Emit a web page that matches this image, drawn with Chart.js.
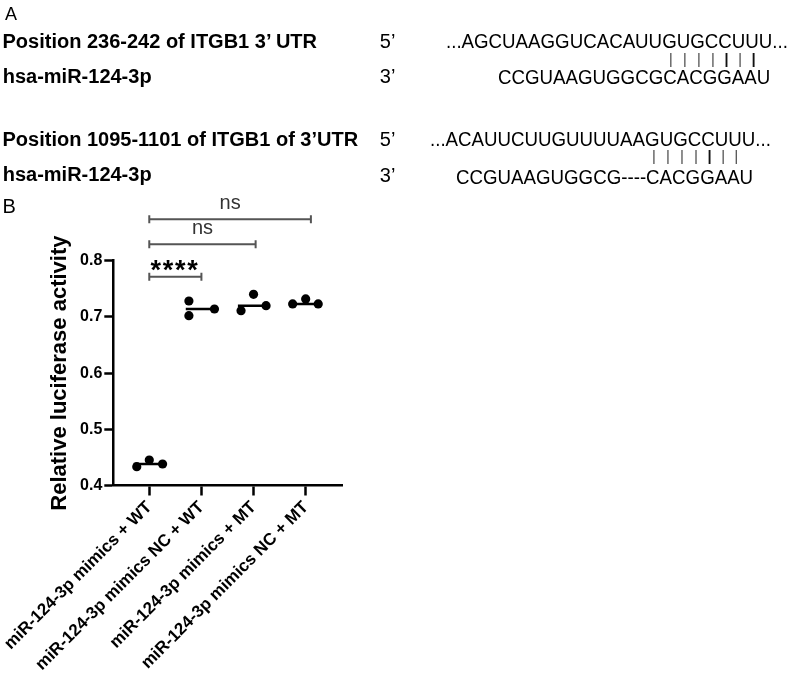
<!DOCTYPE html>
<html>
<head>
<meta charset="utf-8">
<script src="https://cdn.jsdelivr.net/npm/chart.js@4.4.1/dist/chart.umd.min.js"></script>
<style>
  body { margin: 0; background: #fff; }
  #wrap { position: relative; width: 792px; height: 679px; overflow: hidden;
          font-family: "Liberation Sans", Arial, sans-serif; color: #000; }
  canvas { position: absolute; left: 0; top: 0; }
  .t { position: absolute; white-space: nowrap; line-height: 1; font-size: 20px; }
  .b { font-weight: bold; }
  .seq { transform: scaleX(0.935); transform-origin: 0 0; }
  .p { position: relative; }
  .p::after { content: ''; position: absolute; left: calc(50% + 1px); top: 22.3px;
              width: 1.3px; height: 14px; background: #111; }
</style>
</head>
<body>
<div id="wrap">
  <canvas id="chart" width="792" height="679"></canvas>
  <div class="t" style="left:5px;top:4.8px;font-size:18px">A</div>
  <div class="t b" style="left:2.5px;top:31.4px">Position 236-242 of ITGB1 3’ UTR</div>
  <div class="t" style="left:379.8px;top:31.4px">5’</div>
  <div class="t seq" id="utr1" style="left:445.5px;top:31.4px"></div>
  <div class="t b" style="left:2.7px;top:66.1px">hsa-miR-124-3p</div>
  <div class="t" style="left:379.8px;top:66.4px">3’</div>
  <div class="t seq" style="left:498.3px;top:67.4px">CCGUAAGUGGCGCACGGAAU</div>
  <div class="t b" style="left:2.5px;top:128.8px">Position 1095-1101 of ITGB1 of 3’UTR</div>
  <div class="t" style="left:379.8px;top:128.8px">5’</div>
  <div class="t seq" id="utr2" style="left:430px;top:128.8px"></div>
  <div class="t b" style="left:2.7px;top:163.6px">hsa-miR-124-3p</div>
  <div class="t" style="left:379.8px;top:165px">3’</div>
  <div class="t seq" style="left:456.3px;top:166.6px">CCGUAAGUGGCG----CACGGAAU</div>
  <div class="t" style="left:2.5px;top:196.1px">B</div>
</div>
<script>
// panel A sequences, paired bases are letters 16-22 of the UTR strand
const utrSeq1 = '...AGCUAAGGUCACAUUGUGCCUUU...';
const utrSeq2 = '...ACAUUCUUGUUUUAAGUGCCUUU...';
const pairFrom = 18;   // index in the string (after the "...")
const pairTo = 24;

// panel B data
const groups = ['miR-124-3p mimics + WT', 'miR-124-3p mimics NC + WT',
                'miR-124-3p mimics + MT', 'miR-124-3p mimics NC + MT'];
const wtMimics = [0.4335, 0.4454, 0.4383];
const wtNC = [0.7283, 0.7021, 0.7141];
const mtMimics = [0.7110, 0.7402, 0.7200];
const mtNC = [0.7230, 0.7320, 0.7230];
const jitter = [[-0.24, 0, 0.255], [-0.24, -0.24, 0.25], [-0.24, 0, 0.24], [-0.25, 0, 0.24]];
const yTicks = [0.4, 0.5, 0.6, 0.7, 0.8];
const comparisons = [
  { from: 0, to: 1, y: 0.7715, label: '****' },
  { from: 0, to: 2.04, y: 0.8292, label: 'ns' },
  { from: 0, to: 3.1, y: 0.8737, label: 'ns' }
];

function fillSeq(id, seq) {
  const el = document.getElementById(id);
  let html = '';
  for (let i = 0; i < seq.length; i++) {
    html += (i >= pairFrom && i <= pairTo) ? '<span class="p">' + seq[i] + '</span>' : seq[i];
  }
  el.innerHTML = html;
}
fillSeq('utr1', utrSeq1);
fillSeq('utr2', utrSeq2);

function median(arr) {
  const s = arr.slice().sort((a, b) => a - b);
  return s[Math.floor(s.length / 2)];
}

const FONT = '"Liberation Sans", Arial, sans-serif';
Chart.defaults.font.family = FONT;
Chart.defaults.color = '#000';

const allValues = [wtMimics, wtNC, mtMimics, mtNC];
const datasets = [];
allValues.forEach((vals, i) => {
  const m = median(vals);
  datasets.push({
    type: 'line',
    data: [{ x: i - 0.3, y: m }, { x: i + 0.3, y: m }],
    borderColor: '#000',
    borderWidth: 2.5,
    pointRadius: 0,
    fill: false
  });
  datasets.push({
    type: 'scatter',
    data: vals.map((v, j) => ({ x: i + jitter[i][j], y: v })),
    backgroundColor: '#000',
    borderWidth: 0,
    pointRadius: 4.6
  });
});

// significance brackets drawn above the plot
const bracketPlugin = {
  id: 'brackets',
  afterDatasetsDraw(chart) {
    const { ctx, scales: { x, y } } = chart;
    ctx.save();
    comparisons.forEach(c => {
      const x0 = x.getPixelForValue(c.from);
      const x1 = x.getPixelForValue(c.to);
      const yy = y.getPixelForValue(c.y);
      ctx.strokeStyle = '#555';
      ctx.lineWidth = 2;
      ctx.beginPath();
      ctx.moveTo(x0, yy - 4); ctx.lineTo(x0, yy + 4);
      ctx.moveTo(x0, yy); ctx.lineTo(x1, yy);
      ctx.moveTo(x1, yy - 4); ctx.lineTo(x1, yy + 4);
      ctx.stroke();
      const cx = (x0 + x1) / 2;
      ctx.textAlign = 'center';
      ctx.textBaseline = 'alphabetic';
      if (c.label === 'ns') {
        ctx.font = '20px ' + FONT;
        ctx.fillStyle = '#333';
        ctx.fillText(c.label, cx, yy - 10);
      } else {
        ctx.font = 'bold 27px ' + FONT;
        ctx.fillStyle = '#000';
        for (let k = 0; k < c.label.length; k++) {
          ctx.fillText(c.label[k], cx - 1.2 + (k - 1.5) * 12.3, yy + 2);
        }
      }
    });
    ctx.restore();
  }
};

new Chart(document.getElementById('chart'), {
  type: 'scatter',
  data: { datasets: datasets },
  options: {
    responsive: false,
    animation: false,
    layout: { padding: { left: 0, top: 260.7, right: 449.3, bottom: 0 } },
    plugins: { legend: { display: false }, tooltip: { enabled: false } },
    scales: {
      x: {
        type: 'linear',
        min: -0.69,
        max: 3.71,
        afterBuildTicks: s => { s.ticks = groups.map((g, i) => ({ value: i })); },
        afterFit: s => { s.height = 193.5; s.paddingLeft = 0; s.paddingRight = 0; },
        ticks: {
          autoSkip: false,
          minRotation: 45,
          maxRotation: 45,
          color: '#000',
          padding: 2,
          font: { size: 17, weight: 'bold' },
          callback: v => groups[v]
        },
        grid: { drawOnChartArea: false, drawTicks: true, tickLength: 10, tickWidth: 2.5, tickColor: '#000' },
        border: { color: '#000', width: 2.5 }
      },
      y: {
        min: 0.4,
        max: 0.8,
        afterBuildTicks: s => { s.ticks = yTicks.map(v => ({ value: v })); },
        afterFit: s => { s.width = 113.3; s.paddingTop = 0; s.paddingBottom = 0; },
        ticks: {
          color: '#000',
          padding: 2,
          font: { size: 16, weight: 'bold' },
          callback: v => v.toFixed(1)
        },
        grid: { drawOnChartArea: false, drawTicks: true, tickLength: 9, tickWidth: 2.5, tickColor: '#000' },
        border: { color: '#000', width: 2.5 },
        title: {
          display: true,
          text: 'Relative luciferase activity',
          color: '#000',
          font: { size: 22, weight: 'bold' },
          padding: { top: 46.8, bottom: 0 }
        }
      }
    }
  },
  plugins: [bracketPlugin]
});
</script>
</body>
</html>
